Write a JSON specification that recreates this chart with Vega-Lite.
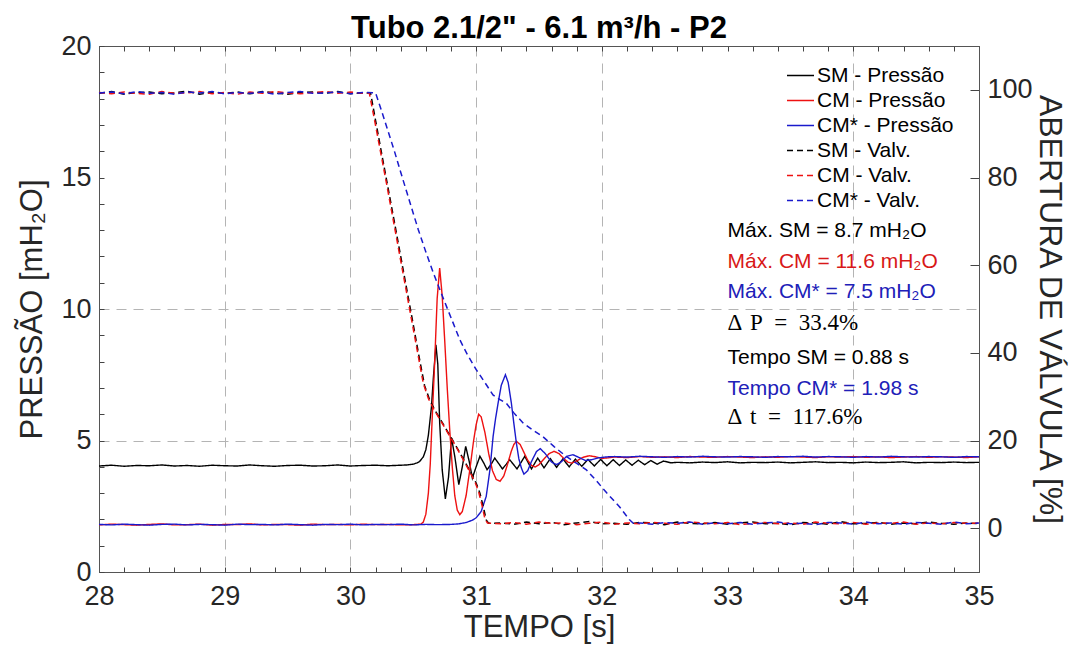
{
  "$schema": "https://vega.github.io/schema/vega-lite/v6.json",
  "width": 880,
  "height": 526,
  "autosize": {"type": "none"},
  "padding": {"left": 99, "top": 46, "right": 94, "bottom": 74},
  "background": "white",
  "config": {
    "view": {"stroke": "#555", "strokeWidth": 1},
    "font": "Liberation Sans",
    "legend": {
      "orient": "none", "legendX": 687, "legendY": 15, "padding": 0,
      "labelFont": "Liberation Sans", "labelFontSize": 21, "labelColor": "#000",
      "symbolType": "stroke", "symbolSize": 729, "symbolStrokeWidth": 1.5,
      "rowPadding": -4, "labelOffset": 2, "labelLimit": 300, "title": null
    }
  },
  "title": {
    "text": "Tubo 2.1/2\" - 6.1 m³/h - P2",
    "fontSize": 31, "fontWeight": "bold", "font": "Liberation Sans", "color": "#000",
    "anchor": "middle", "baseline": "alphabetic", "offset": -37
  },
  "datasets": {
    "pres": [
      {"s":"SM - Pressão","t":28.0,"y":4.03},{"s":"SM - Pressão","t":28.1,"y":4.06},{"s":"SM - Pressão","t":28.2,"y":4.02},{"s":"SM - Pressão","t":28.3,"y":4.05},{"s":"SM - Pressão","t":28.4,"y":4.04},{"s":"SM - Pressão","t":28.5,"y":4.07},{"s":"SM - Pressão","t":28.6,"y":4.03},{"s":"SM - Pressão","t":28.7,"y":4.05},{"s":"SM - Pressão","t":28.8,"y":4.02},{"s":"SM - Pressão","t":28.9,"y":4.06},{"s":"SM - Pressão","t":29.0,"y":4.04},{"s":"SM - Pressão","t":29.1,"y":4.03},{"s":"SM - Pressão","t":29.2,"y":4.07},{"s":"SM - Pressão","t":29.3,"y":4.04},{"s":"SM - Pressão","t":29.4,"y":4.02},{"s":"SM - Pressão","t":29.5,"y":4.05},{"s":"SM - Pressão","t":29.6,"y":4.06},{"s":"SM - Pressão","t":29.7,"y":4.03},{"s":"SM - Pressão","t":29.8,"y":4.04},{"s":"SM - Pressão","t":29.9,"y":4.07},{"s":"SM - Pressão","t":30.0,"y":4.03},{"s":"SM - Pressão","t":30.1,"y":4.05},{"s":"SM - Pressão","t":30.2,"y":4.06},{"s":"SM - Pressão","t":30.3,"y":4.04},{"s":"SM - Pressão","t":30.4,"y":4.06},
      {"s":"SM - Pressão","t":30.45,"y":4.07},{"s":"SM - Pressão","t":30.5,"y":4.1},{"s":"SM - Pressão","t":30.53,"y":4.15},{"s":"SM - Pressão","t":30.55,"y":4.2},{"s":"SM - Pressão","t":30.58,"y":4.38},{"s":"SM - Pressão","t":30.6,"y":4.65},{"s":"SM - Pressão","t":30.62,"y":5.2},{"s":"SM - Pressão","t":30.645,"y":6.3},{"s":"SM - Pressão","t":30.66,"y":7.4},{"s":"SM - Pressão","t":30.68,"y":8.64},{"s":"SM - Pressão","t":30.695,"y":7.9},{"s":"SM - Pressão","t":30.71,"y":5.67},{"s":"SM - Pressão","t":30.73,"y":3.89},{"s":"SM - Pressão","t":30.755,"y":2.78},{"s":"SM - Pressão","t":30.78,"y":3.6},{"s":"SM - Pressão","t":30.804,"y":5.09},{"s":"SM - Pressão","t":30.83,"y":4.4},{"s":"SM - Pressão","t":30.862,"y":3.32},{"s":"SM - Pressão","t":30.89,"y":4.0},{"s":"SM - Pressão","t":30.917,"y":4.78},{"s":"SM - Pressão","t":30.945,"y":4.2},{"s":"SM - Pressão","t":30.97,"y":3.57},{"s":"SM - Pressão","t":31.0,"y":4.0},{"s":"SM - Pressão","t":31.03,"y":4.4},{"s":"SM - Pressão","t":31.06,"y":4.15},{"s":"SM - Pressão","t":31.087,"y":3.89},{"s":"SM - Pressão","t":31.12,"y":4.1},{"s":"SM - Pressão","t":31.148,"y":4.33},{"s":"SM - Pressão","t":31.18,"y":4.12},{"s":"SM - Pressão","t":31.209,"y":3.92},{"s":"SM - Pressão","t":31.24,"y":4.1},{"s":"SM - Pressão","t":31.267,"y":4.27},{"s":"SM - Pressão","t":31.295,"y":4.1},{"s":"SM - Pressão","t":31.325,"y":3.92},{"s":"SM - Pressão","t":31.355,"y":4.15},{"s":"SM - Pressão","t":31.387,"y":4.4},{"s":"SM - Pressão","t":31.415,"y":4.15},{"s":"SM - Pressão","t":31.44,"y":3.92},{"s":"SM - Pressão","t":31.49,"y":4.33},{"s":"SM - Pressão","t":31.54,"y":3.96},{"s":"SM - Pressão","t":31.59,"y":4.31},{"s":"SM - Pressão","t":31.64,"y":3.98},{"s":"SM - Pressão","t":31.69,"y":4.3},{"s":"SM - Pressão","t":31.74,"y":4.0},{"s":"SM - Pressão","t":31.79,"y":4.29},{"s":"SM - Pressão","t":31.84,"y":4.02},{"s":"SM - Pressão","t":31.89,"y":4.28},{"s":"SM - Pressão","t":31.94,"y":4.03},{"s":"SM - Pressão","t":31.99,"y":4.28},{"s":"SM - Pressão","t":32.04,"y":4.04},{"s":"SM - Pressão","t":32.09,"y":4.27},{"s":"SM - Pressão","t":32.14,"y":4.05},{"s":"SM - Pressão","t":32.19,"y":4.26},{"s":"SM - Pressão","t":32.24,"y":4.06},{"s":"SM - Pressão","t":32.29,"y":4.25},{"s":"SM - Pressão","t":32.34,"y":4.08},{"s":"SM - Pressão","t":32.39,"y":4.24},{"s":"SM - Pressão","t":32.44,"y":4.1},{"s":"SM - Pressão","t":32.49,"y":4.22},{"s":"SM - Pressão","t":32.55,"y":4.15},
      {"s":"SM - Pressão","t":32.6,"y":4.17},{"s":"SM - Pressão","t":32.7,"y":4.15},{"s":"SM - Pressão","t":32.8,"y":4.18},{"s":"SM - Pressão","t":32.9,"y":4.16},{"s":"SM - Pressão","t":33.0,"y":4.19},{"s":"SM - Pressão","t":33.1,"y":4.15},{"s":"SM - Pressão","t":33.2,"y":4.17},{"s":"SM - Pressão","t":33.3,"y":4.16},{"s":"SM - Pressão","t":33.4,"y":4.18},{"s":"SM - Pressão","t":33.5,"y":4.15},{"s":"SM - Pressão","t":33.6,"y":4.17},{"s":"SM - Pressão","t":33.7,"y":4.19},{"s":"SM - Pressão","t":33.8,"y":4.16},{"s":"SM - Pressão","t":33.9,"y":4.17},{"s":"SM - Pressão","t":34.0,"y":4.15},{"s":"SM - Pressão","t":34.1,"y":4.18},{"s":"SM - Pressão","t":34.2,"y":4.16},{"s":"SM - Pressão","t":34.3,"y":4.17},{"s":"SM - Pressão","t":34.4,"y":4.19},{"s":"SM - Pressão","t":34.5,"y":4.15},{"s":"SM - Pressão","t":34.6,"y":4.17},{"s":"SM - Pressão","t":34.7,"y":4.16},{"s":"SM - Pressão","t":34.8,"y":4.18},{"s":"SM - Pressão","t":34.9,"y":4.16},{"s":"SM - Pressão","t":35.0,"y":4.17},

      {"s":"CM - Pressão","t":28.0,"y":1.79},{"s":"CM - Pressão","t":28.1,"y":1.82},{"s":"CM - Pressão","t":28.2,"y":1.8},{"s":"CM - Pressão","t":28.3,"y":1.78},{"s":"CM - Pressão","t":28.4,"y":1.81},{"s":"CM - Pressão","t":28.5,"y":1.83},{"s":"CM - Pressão","t":28.6,"y":1.79},{"s":"CM - Pressão","t":28.7,"y":1.8},{"s":"CM - Pressão","t":28.8,"y":1.82},{"s":"CM - Pressão","t":28.9,"y":1.78},{"s":"CM - Pressão","t":29.0,"y":1.81},{"s":"CM - Pressão","t":29.1,"y":1.8},{"s":"CM - Pressão","t":29.2,"y":1.83},{"s":"CM - Pressão","t":29.3,"y":1.79},{"s":"CM - Pressão","t":29.4,"y":1.81},{"s":"CM - Pressão","t":29.5,"y":1.8},{"s":"CM - Pressão","t":29.6,"y":1.78},{"s":"CM - Pressão","t":29.7,"y":1.82},{"s":"CM - Pressão","t":29.8,"y":1.8},{"s":"CM - Pressão","t":29.9,"y":1.81},{"s":"CM - Pressão","t":30.0,"y":1.79},{"s":"CM - Pressão","t":30.1,"y":1.82},{"s":"CM - Pressão","t":30.2,"y":1.8},{"s":"CM - Pressão","t":30.3,"y":1.81},{"s":"CM - Pressão","t":30.4,"y":1.79},{"s":"CM - Pressão","t":30.5,"y":1.8},
      {"s":"CM - Pressão","t":30.56,"y":1.82},{"s":"CM - Pressão","t":30.58,"y":1.9},{"s":"CM - Pressão","t":30.6,"y":2.2},{"s":"CM - Pressão","t":30.62,"y":3.0},{"s":"CM - Pressão","t":30.635,"y":4.1},{"s":"CM - Pressão","t":30.65,"y":5.8},{"s":"CM - Pressão","t":30.67,"y":7.95},{"s":"CM - Pressão","t":30.69,"y":10.4},{"s":"CM - Pressão","t":30.71,"y":11.56},{"s":"CM - Pressão","t":30.73,"y":10.5},{"s":"CM - Pressão","t":30.75,"y":8.8},{"s":"CM - Pressão","t":30.77,"y":7.0},{"s":"CM - Pressão","t":30.79,"y":5.4},{"s":"CM - Pressão","t":30.81,"y":4.0},{"s":"CM - Pressão","t":30.83,"y":2.9},{"s":"CM - Pressão","t":30.85,"y":2.35},{"s":"CM - Pressão","t":30.87,"y":2.18},{"s":"CM - Pressão","t":30.89,"y":2.3},{"s":"CM - Pressão","t":30.92,"y":2.9},{"s":"CM - Pressão","t":30.95,"y":3.9},{"s":"CM - Pressão","t":30.98,"y":5.0},{"s":"CM - Pressão","t":31.0,"y":5.6},{"s":"CM - Pressão","t":31.02,"y":6.0},{"s":"CM - Pressão","t":31.04,"y":5.9},{"s":"CM - Pressão","t":31.07,"y":5.3},{"s":"CM - Pressão","t":31.1,"y":4.5},{"s":"CM - Pressão","t":31.13,"y":3.85},{"s":"CM - Pressão","t":31.16,"y":3.52},{"s":"CM - Pressão","t":31.19,"y":3.45},{"s":"CM - Pressão","t":31.22,"y":3.65},{"s":"CM - Pressão","t":31.25,"y":4.1},{"s":"CM - Pressão","t":31.28,"y":4.6},{"s":"CM - Pressão","t":31.3,"y":4.85},{"s":"CM - Pressão","t":31.32,"y":4.97},{"s":"CM - Pressão","t":31.35,"y":4.85},{"s":"CM - Pressão","t":31.38,"y":4.55},{"s":"CM - Pressão","t":31.41,"y":4.25},{"s":"CM - Pressão","t":31.44,"y":4.05},{"s":"CM - Pressão","t":31.47,"y":3.99},{"s":"CM - Pressão","t":31.5,"y":4.08},{"s":"CM - Pressão","t":31.54,"y":4.3},{"s":"CM - Pressão","t":31.58,"y":4.5},{"s":"CM - Pressão","t":31.62,"y":4.59},{"s":"CM - Pressão","t":31.66,"y":4.5},{"s":"CM - Pressão","t":31.7,"y":4.3},{"s":"CM - Pressão","t":31.73,"y":4.18},{"s":"CM - Pressão","t":31.76,"y":4.14},{"s":"CM - Pressão","t":31.8,"y":4.22},{"s":"CM - Pressão","t":31.85,"y":4.36},{"s":"CM - Pressão","t":31.9,"y":4.42},{"s":"CM - Pressão","t":31.95,"y":4.38},{"s":"CM - Pressão","t":32.0,"y":4.32},{"s":"CM - Pressão","t":32.05,"y":4.34},
      {"s":"CM - Pressão","t":32.1,"y":4.37},{"s":"CM - Pressão","t":32.2,"y":4.35},{"s":"CM - Pressão","t":32.3,"y":4.39},{"s":"CM - Pressão","t":32.4,"y":4.36},{"s":"CM - Pressão","t":32.5,"y":4.38},{"s":"CM - Pressão","t":32.6,"y":4.35},{"s":"CM - Pressão","t":32.7,"y":4.39},{"s":"CM - Pressão","t":32.8,"y":4.37},{"s":"CM - Pressão","t":32.9,"y":4.36},{"s":"CM - Pressão","t":33.0,"y":4.39},{"s":"CM - Pressão","t":33.1,"y":4.37},{"s":"CM - Pressão","t":33.2,"y":4.35},{"s":"CM - Pressão","t":33.3,"y":4.38},{"s":"CM - Pressão","t":33.4,"y":4.36},{"s":"CM - Pressão","t":33.5,"y":4.39},{"s":"CM - Pressão","t":33.6,"y":4.37},{"s":"CM - Pressão","t":33.7,"y":4.35},{"s":"CM - Pressão","t":33.8,"y":4.38},{"s":"CM - Pressão","t":33.9,"y":4.37},{"s":"CM - Pressão","t":34.0,"y":4.39},{"s":"CM - Pressão","t":34.1,"y":4.36},{"s":"CM - Pressão","t":34.2,"y":4.38},{"s":"CM - Pressão","t":34.3,"y":4.35},{"s":"CM - Pressão","t":34.4,"y":4.37},{"s":"CM - Pressão","t":34.5,"y":4.39},{"s":"CM - Pressão","t":34.6,"y":4.36},{"s":"CM - Pressão","t":34.7,"y":4.38},{"s":"CM - Pressão","t":34.8,"y":4.37},{"s":"CM - Pressão","t":34.9,"y":4.35},{"s":"CM - Pressão","t":35.0,"y":4.38},

      {"s":"CM* - Pressão","t":28.0,"y":1.81},{"s":"CM* - Pressão","t":28.1,"y":1.79},{"s":"CM* - Pressão","t":28.2,"y":1.82},{"s":"CM* - Pressão","t":28.3,"y":1.8},{"s":"CM* - Pressão","t":28.4,"y":1.78},{"s":"CM* - Pressão","t":28.5,"y":1.81},{"s":"CM* - Pressão","t":28.6,"y":1.82},{"s":"CM* - Pressão","t":28.7,"y":1.79},{"s":"CM* - Pressão","t":28.8,"y":1.81},{"s":"CM* - Pressão","t":28.9,"y":1.8},{"s":"CM* - Pressão","t":29.0,"y":1.78},{"s":"CM* - Pressão","t":29.1,"y":1.82},{"s":"CM* - Pressão","t":29.2,"y":1.8},{"s":"CM* - Pressão","t":29.3,"y":1.81},{"s":"CM* - Pressão","t":29.4,"y":1.79},{"s":"CM* - Pressão","t":29.5,"y":1.82},{"s":"CM* - Pressão","t":29.6,"y":1.8},{"s":"CM* - Pressão","t":29.7,"y":1.78},{"s":"CM* - Pressão","t":29.8,"y":1.81},{"s":"CM* - Pressão","t":29.9,"y":1.8},{"s":"CM* - Pressão","t":30.0,"y":1.82},{"s":"CM* - Pressão","t":30.1,"y":1.79},{"s":"CM* - Pressão","t":30.2,"y":1.81},{"s":"CM* - Pressão","t":30.3,"y":1.8},{"s":"CM* - Pressão","t":30.4,"y":1.82},{"s":"CM* - Pressão","t":30.5,"y":1.79},{"s":"CM* - Pressão","t":30.6,"y":1.81},{"s":"CM* - Pressão","t":30.7,"y":1.8},{"s":"CM* - Pressão","t":30.8,"y":1.81},
      {"s":"CM* - Pressão","t":30.86,"y":1.83},{"s":"CM* - Pressão","t":30.92,"y":1.88},{"s":"CM* - Pressão","t":30.97,"y":1.97},{"s":"CM* - Pressão","t":31.0,"y":2.06},{"s":"CM* - Pressão","t":31.04,"y":2.3},{"s":"CM* - Pressão","t":31.08,"y":2.87},{"s":"CM* - Pressão","t":31.11,"y":3.9},{"s":"CM* - Pressão","t":31.135,"y":5.16},{"s":"CM* - Pressão","t":31.155,"y":5.85},{"s":"CM* - Pressão","t":31.175,"y":6.43},{"s":"CM* - Pressão","t":31.2,"y":7.1},{"s":"CM* - Pressão","t":31.233,"y":7.5},{"s":"CM* - Pressão","t":31.255,"y":7.2},{"s":"CM* - Pressão","t":31.28,"y":6.43},{"s":"CM* - Pressão","t":31.3,"y":5.65},{"s":"CM* - Pressão","t":31.32,"y":4.9},{"s":"CM* - Pressão","t":31.34,"y":4.3},{"s":"CM* - Pressão","t":31.36,"y":3.95},{"s":"CM* - Pressão","t":31.38,"y":3.72},{"s":"CM* - Pressão","t":31.41,"y":3.85},{"s":"CM* - Pressão","t":31.44,"y":4.2},{"s":"CM* - Pressão","t":31.48,"y":4.58},{"s":"CM* - Pressão","t":31.51,"y":4.69},{"s":"CM* - Pressão","t":31.55,"y":4.5},{"s":"CM* - Pressão","t":31.6,"y":4.18},{"s":"CM* - Pressão","t":31.64,"y":4.08},{"s":"CM* - Pressão","t":31.68,"y":4.2},{"s":"CM* - Pressão","t":31.72,"y":4.4},{"s":"CM* - Pressão","t":31.77,"y":4.46},{"s":"CM* - Pressão","t":31.82,"y":4.35},{"s":"CM* - Pressão","t":31.87,"y":4.24},{"s":"CM* - Pressão","t":31.92,"y":4.27},{"s":"CM* - Pressão","t":31.97,"y":4.34},{"s":"CM* - Pressão","t":32.05,"y":4.38},
      {"s":"CM* - Pressão","t":32.1,"y":4.39},{"s":"CM* - Pressão","t":32.2,"y":4.37},{"s":"CM* - Pressão","t":32.3,"y":4.4},{"s":"CM* - Pressão","t":32.4,"y":4.38},{"s":"CM* - Pressão","t":32.5,"y":4.36},{"s":"CM* - Pressão","t":32.6,"y":4.39},{"s":"CM* - Pressão","t":32.7,"y":4.37},{"s":"CM* - Pressão","t":32.8,"y":4.4},{"s":"CM* - Pressão","t":32.9,"y":4.38},{"s":"CM* - Pressão","t":33.0,"y":4.37},{"s":"CM* - Pressão","t":33.1,"y":4.39},{"s":"CM* - Pressão","t":33.2,"y":4.38},{"s":"CM* - Pressão","t":33.3,"y":4.36},{"s":"CM* - Pressão","t":33.4,"y":4.39},{"s":"CM* - Pressão","t":33.5,"y":4.38},{"s":"CM* - Pressão","t":33.6,"y":4.4},{"s":"CM* - Pressão","t":33.7,"y":4.37},{"s":"CM* - Pressão","t":33.8,"y":4.39},{"s":"CM* - Pressão","t":33.9,"y":4.38},{"s":"CM* - Pressão","t":34.0,"y":4.36},{"s":"CM* - Pressão","t":34.1,"y":4.39},{"s":"CM* - Pressão","t":34.2,"y":4.37},{"s":"CM* - Pressão","t":34.3,"y":4.4},{"s":"CM* - Pressão","t":34.4,"y":4.38},{"s":"CM* - Pressão","t":34.5,"y":4.37},{"s":"CM* - Pressão","t":34.6,"y":4.39},{"s":"CM* - Pressão","t":34.7,"y":4.38},{"s":"CM* - Pressão","t":34.8,"y":4.36},{"s":"CM* - Pressão","t":34.9,"y":4.39},{"s":"CM* - Pressão","t":35.0,"y":4.38}
    ],
    "valv": [
      {"s":"SM - Valv.","t":28.0,"y":99.2},{"s":"SM - Valv.","t":28.1,"y":99.6},{"s":"SM - Valv.","t":28.2,"y":99.0},{"s":"SM - Valv.","t":28.3,"y":99.4},{"s":"SM - Valv.","t":28.4,"y":99.5},{"s":"SM - Valv.","t":28.5,"y":99.1},{"s":"SM - Valv.","t":28.6,"y":99.3},{"s":"SM - Valv.","t":28.7,"y":99.7},{"s":"SM - Valv.","t":28.8,"y":99.0},{"s":"SM - Valv.","t":28.9,"y":99.4},{"s":"SM - Valv.","t":29.0,"y":99.2},{"s":"SM - Valv.","t":29.1,"y":99.5},{"s":"SM - Valv.","t":29.2,"y":99.1},{"s":"SM - Valv.","t":29.3,"y":99.6},{"s":"SM - Valv.","t":29.4,"y":99.3},{"s":"SM - Valv.","t":29.5,"y":99.0},{"s":"SM - Valv.","t":29.6,"y":99.4},{"s":"SM - Valv.","t":29.7,"y":99.5},{"s":"SM - Valv.","t":29.8,"y":99.2},{"s":"SM - Valv.","t":29.9,"y":99.6},{"s":"SM - Valv.","t":30.0,"y":99.1},{"s":"SM - Valv.","t":30.1,"y":99.3},
      {"s":"SM - Valv.","t":30.16,"y":99.3},{"s":"SM - Valv.","t":30.2,"y":93},{"s":"SM - Valv.","t":30.25,"y":85.2},{"s":"SM - Valv.","t":30.3,"y":77.5},{"s":"SM - Valv.","t":30.35,"y":69.8},{"s":"SM - Valv.","t":30.4,"y":62},{"s":"SM - Valv.","t":30.45,"y":54.2},{"s":"SM - Valv.","t":30.5,"y":46.4},{"s":"SM - Valv.","t":30.55,"y":38.5},{"s":"SM - Valv.","t":30.59,"y":32.5},{"s":"SM - Valv.","t":30.63,"y":29.3},{"s":"SM - Valv.","t":30.67,"y":27},{"s":"SM - Valv.","t":30.72,"y":24.6},{"s":"SM - Valv.","t":30.8,"y":20.7},{"s":"SM - Valv.","t":30.856,"y":17.9},{"s":"SM - Valv.","t":30.91,"y":15.2},{"s":"SM - Valv.","t":30.96,"y":12.5},{"s":"SM - Valv.","t":31.0,"y":10.3},{"s":"SM - Valv.","t":31.03,"y":8.0},{"s":"SM - Valv.","t":31.06,"y":4.5},{"s":"SM - Valv.","t":31.08,"y":1.9},{"s":"SM - Valv.","t":31.1,"y":1.1},
      {"s":"SM - Valv.","t":31.2,"y":1.2},{"s":"SM - Valv.","t":31.3,"y":0.9},{"s":"SM - Valv.","t":31.4,"y":1.4},{"s":"SM - Valv.","t":31.5,"y":1.0},{"s":"SM - Valv.","t":31.6,"y":1.3},{"s":"SM - Valv.","t":31.7,"y":0.8},{"s":"SM - Valv.","t":31.8,"y":1.2},{"s":"SM - Valv.","t":31.9,"y":1.5},{"s":"SM - Valv.","t":32.0,"y":1.0},{"s":"SM - Valv.","t":32.1,"y":1.1},{"s":"SM - Valv.","t":32.2,"y":0.9},{"s":"SM - Valv.","t":32.3,"y":1.3},{"s":"SM - Valv.","t":32.4,"y":1.2},{"s":"SM - Valv.","t":32.5,"y":0.8},{"s":"SM - Valv.","t":32.6,"y":1.4},{"s":"SM - Valv.","t":32.7,"y":1.1},{"s":"SM - Valv.","t":32.8,"y":1.0},{"s":"SM - Valv.","t":32.9,"y":1.3},{"s":"SM - Valv.","t":33.0,"y":0.9},{"s":"SM - Valv.","t":33.1,"y":1.2},{"s":"SM - Valv.","t":33.2,"y":1.4},{"s":"SM - Valv.","t":33.3,"y":1.0},{"s":"SM - Valv.","t":33.4,"y":1.1},{"s":"SM - Valv.","t":33.5,"y":0.8},{"s":"SM - Valv.","t":33.6,"y":1.3},{"s":"SM - Valv.","t":33.7,"y":1.2},{"s":"SM - Valv.","t":33.8,"y":0.9},{"s":"SM - Valv.","t":33.9,"y":1.5},{"s":"SM - Valv.","t":34.0,"y":1.0},{"s":"SM - Valv.","t":34.1,"y":1.1},{"s":"SM - Valv.","t":34.2,"y":1.3},{"s":"SM - Valv.","t":34.3,"y":0.9},{"s":"SM - Valv.","t":34.4,"y":1.2},{"s":"SM - Valv.","t":34.5,"y":1.0},{"s":"SM - Valv.","t":34.6,"y":1.4},{"s":"SM - Valv.","t":34.7,"y":1.1},{"s":"SM - Valv.","t":34.8,"y":0.9},{"s":"SM - Valv.","t":34.9,"y":1.2},{"s":"SM - Valv.","t":35.0,"y":1.0},

      {"s":"CM - Valv.","t":28.0,"y":99.4},{"s":"CM - Valv.","t":28.1,"y":99.1},{"s":"CM - Valv.","t":28.2,"y":99.5},{"s":"CM - Valv.","t":28.3,"y":99.2},{"s":"CM - Valv.","t":28.4,"y":99.0},{"s":"CM - Valv.","t":28.5,"y":99.6},{"s":"CM - Valv.","t":28.6,"y":99.2},{"s":"CM - Valv.","t":28.7,"y":99.3},{"s":"CM - Valv.","t":28.8,"y":99.6},{"s":"CM - Valv.","t":28.9,"y":99.1},{"s":"CM - Valv.","t":29.0,"y":99.4},{"s":"CM - Valv.","t":29.1,"y":99.0},{"s":"CM - Valv.","t":29.2,"y":99.5},{"s":"CM - Valv.","t":29.3,"y":99.2},{"s":"CM - Valv.","t":29.4,"y":99.6},{"s":"CM - Valv.","t":29.5,"y":99.3},{"s":"CM - Valv.","t":29.6,"y":99.1},{"s":"CM - Valv.","t":29.7,"y":99.4},{"s":"CM - Valv.","t":29.8,"y":99.6},{"s":"CM - Valv.","t":29.9,"y":99.2},{"s":"CM - Valv.","t":30.0,"y":99.5},{"s":"CM - Valv.","t":30.1,"y":99.2},
      {"s":"CM - Valv.","t":30.15,"y":99.3},{"s":"CM - Valv.","t":30.19,"y":93.4},{"s":"CM - Valv.","t":30.24,"y":85.8},{"s":"CM - Valv.","t":30.29,"y":78.2},{"s":"CM - Valv.","t":30.34,"y":70.4},{"s":"CM - Valv.","t":30.39,"y":62.6},{"s":"CM - Valv.","t":30.44,"y":54.8},{"s":"CM - Valv.","t":30.49,"y":47},{"s":"CM - Valv.","t":30.54,"y":39.2},{"s":"CM - Valv.","t":30.58,"y":33},{"s":"CM - Valv.","t":30.62,"y":29.6},{"s":"CM - Valv.","t":30.66,"y":27.3},{"s":"CM - Valv.","t":30.71,"y":24.9},{"s":"CM - Valv.","t":30.79,"y":21},{"s":"CM - Valv.","t":30.85,"y":18.1},{"s":"CM - Valv.","t":30.9,"y":15.5},{"s":"CM - Valv.","t":30.95,"y":12.8},{"s":"CM - Valv.","t":30.99,"y":10.6},{"s":"CM - Valv.","t":31.02,"y":8.3},{"s":"CM - Valv.","t":31.05,"y":4.8},{"s":"CM - Valv.","t":31.07,"y":2.1},{"s":"CM - Valv.","t":31.09,"y":1.2},
      {"s":"CM - Valv.","t":31.2,"y":1.0},{"s":"CM - Valv.","t":31.3,"y":1.3},{"s":"CM - Valv.","t":31.4,"y":0.9},{"s":"CM - Valv.","t":31.5,"y":1.4},{"s":"CM - Valv.","t":31.6,"y":1.1},{"s":"CM - Valv.","t":31.7,"y":1.2},{"s":"CM - Valv.","t":31.8,"y":0.8},{"s":"CM - Valv.","t":31.9,"y":1.1},{"s":"CM - Valv.","t":32.0,"y":1.4},{"s":"CM - Valv.","t":32.1,"y":0.9},{"s":"CM - Valv.","t":32.2,"y":1.2},{"s":"CM - Valv.","t":32.3,"y":1.0},{"s":"CM - Valv.","t":32.4,"y":1.3},{"s":"CM - Valv.","t":32.5,"y":1.1},{"s":"CM - Valv.","t":32.6,"y":0.9},{"s":"CM - Valv.","t":32.7,"y":1.4},{"s":"CM - Valv.","t":32.8,"y":1.2},{"s":"CM - Valv.","t":32.9,"y":1.0},{"s":"CM - Valv.","t":33.0,"y":1.3},{"s":"CM - Valv.","t":33.1,"y":0.8},{"s":"CM - Valv.","t":33.2,"y":1.1},{"s":"CM - Valv.","t":33.3,"y":1.3},{"s":"CM - Valv.","t":33.4,"y":1.0},{"s":"CM - Valv.","t":33.5,"y":1.2},{"s":"CM - Valv.","t":33.6,"y":0.9},{"s":"CM - Valv.","t":33.7,"y":1.4},{"s":"CM - Valv.","t":33.8,"y":1.1},{"s":"CM - Valv.","t":33.9,"y":1.0},{"s":"CM - Valv.","t":34.0,"y":1.3},{"s":"CM - Valv.","t":34.1,"y":0.9},{"s":"CM - Valv.","t":34.2,"y":1.2},{"s":"CM - Valv.","t":34.3,"y":1.1},{"s":"CM - Valv.","t":34.4,"y":1.4},{"s":"CM - Valv.","t":34.5,"y":0.9},{"s":"CM - Valv.","t":34.6,"y":1.2},{"s":"CM - Valv.","t":34.7,"y":1.0},{"s":"CM - Valv.","t":34.8,"y":1.3},{"s":"CM - Valv.","t":34.9,"y":1.1},{"s":"CM - Valv.","t":35.0,"y":1.2},

      {"s":"CM* - Valv.","t":28.0,"y":99.3},{"s":"CM* - Valv.","t":28.1,"y":99.5},{"s":"CM* - Valv.","t":28.2,"y":99.1},{"s":"CM* - Valv.","t":28.3,"y":99.6},{"s":"CM* - Valv.","t":28.4,"y":99.2},{"s":"CM* - Valv.","t":28.5,"y":99.4},{"s":"CM* - Valv.","t":28.6,"y":99.0},{"s":"CM* - Valv.","t":28.7,"y":99.5},{"s":"CM* - Valv.","t":28.8,"y":99.3},{"s":"CM* - Valv.","t":28.9,"y":99.6},{"s":"CM* - Valv.","t":29.0,"y":99.1},{"s":"CM* - Valv.","t":29.1,"y":99.4},{"s":"CM* - Valv.","t":29.2,"y":99.2},{"s":"CM* - Valv.","t":29.3,"y":99.5},{"s":"CM* - Valv.","t":29.4,"y":99.0},{"s":"CM* - Valv.","t":29.5,"y":99.4},{"s":"CM* - Valv.","t":29.6,"y":99.6},{"s":"CM* - Valv.","t":29.7,"y":99.2},{"s":"CM* - Valv.","t":29.8,"y":99.3},{"s":"CM* - Valv.","t":29.9,"y":99.5},{"s":"CM* - Valv.","t":30.0,"y":99.1},{"s":"CM* - Valv.","t":30.1,"y":99.4},{"s":"CM* - Valv.","t":30.2,"y":99.3},
      {"s":"CM* - Valv.","t":30.25,"y":95},{"s":"CM* - Valv.","t":30.3,"y":90.5},{"s":"CM* - Valv.","t":30.35,"y":86},{"s":"CM* - Valv.","t":30.4,"y":81.2},{"s":"CM* - Valv.","t":30.45,"y":76.5},{"s":"CM* - Valv.","t":30.5,"y":71.8},{"s":"CM* - Valv.","t":30.54,"y":68.1},{"s":"CM* - Valv.","t":30.6,"y":63},{"s":"CM* - Valv.","t":30.66,"y":58.2},{"s":"CM* - Valv.","t":30.71,"y":54.5},{"s":"CM* - Valv.","t":30.764,"y":50.6},{"s":"CM* - Valv.","t":30.82,"y":46.6},{"s":"CM* - Valv.","t":30.87,"y":43},{"s":"CM* - Valv.","t":30.93,"y":39.6},{"s":"CM* - Valv.","t":31.0,"y":36.2},{"s":"CM* - Valv.","t":31.07,"y":33.2},{"s":"CM* - Valv.","t":31.134,"y":30.4},{"s":"CM* - Valv.","t":31.19,"y":29.3},{"s":"CM* - Valv.","t":31.24,"y":28.5},{"s":"CM* - Valv.","t":31.3,"y":26.3},{"s":"CM* - Valv.","t":31.373,"y":24},{"s":"CM* - Valv.","t":31.45,"y":22.4},{"s":"CM* - Valv.","t":31.53,"y":20.9},{"s":"CM* - Valv.","t":31.62,"y":18.6},{"s":"CM* - Valv.","t":31.72,"y":16.3},{"s":"CM* - Valv.","t":31.8,"y":14.8},{"s":"CM* - Valv.","t":31.877,"y":13.3},{"s":"CM* - Valv.","t":31.96,"y":10.7},{"s":"CM* - Valv.","t":32.04,"y":8},{"s":"CM* - Valv.","t":32.14,"y":4.9},{"s":"CM* - Valv.","t":32.22,"y":1.9},{"s":"CM* - Valv.","t":32.25,"y":1.1},
      {"s":"CM* - Valv.","t":32.3,"y":1.2},{"s":"CM* - Valv.","t":32.4,"y":0.9},{"s":"CM* - Valv.","t":32.5,"y":1.3},{"s":"CM* - Valv.","t":32.6,"y":1.1},{"s":"CM* - Valv.","t":32.7,"y":1.4},{"s":"CM* - Valv.","t":32.8,"y":0.9},{"s":"CM* - Valv.","t":32.9,"y":1.2},{"s":"CM* - Valv.","t":33.0,"y":1.0},{"s":"CM* - Valv.","t":33.1,"y":1.3},{"s":"CM* - Valv.","t":33.2,"y":0.9},{"s":"CM* - Valv.","t":33.3,"y":1.2},{"s":"CM* - Valv.","t":33.4,"y":1.4},{"s":"CM* - Valv.","t":33.5,"y":1.0},{"s":"CM* - Valv.","t":33.6,"y":1.1},{"s":"CM* - Valv.","t":33.7,"y":0.8},{"s":"CM* - Valv.","t":33.8,"y":1.3},{"s":"CM* - Valv.","t":33.9,"y":1.2},{"s":"CM* - Valv.","t":34.0,"y":0.9},{"s":"CM* - Valv.","t":34.1,"y":1.4},{"s":"CM* - Valv.","t":34.2,"y":1.0},{"s":"CM* - Valv.","t":34.3,"y":1.2},{"s":"CM* - Valv.","t":34.4,"y":0.9},{"s":"CM* - Valv.","t":34.5,"y":1.3},{"s":"CM* - Valv.","t":34.6,"y":1.1},{"s":"CM* - Valv.","t":34.7,"y":0.9},{"s":"CM* - Valv.","t":34.8,"y":1.4},{"s":"CM* - Valv.","t":34.9,"y":1.0},{"s":"CM* - Valv.","t":35.0,"y":1.2}
    ],
    "ann": [
      {"k":"k","label":"Máx. SM = 8.7 mH₂O","t":33.0,"y":12.95},
      {"k":"r","label":"Máx. CM = 11.6 mH₂O","t":33.0,"y":11.79},
      {"k":"b","label":"Máx. CM* = 7.5 mH₂O","t":33.0,"y":10.63},
      {"k":"d","label":"Δ\u2004P\u2002=\u200233.4%","t":33.0,"y":9.48},
      {"k":"k","label":"Tempo SM = 0.88 s","t":33.0,"y":8.14},
      {"k":"b","label":"Tempo CM* = 1.98 s","t":33.0,"y":6.97},
      {"k":"d","label":"Δ\u2004t\u2002=\u2002117.6%","t":33.0,"y":5.89}
    ]
  },
  "layer": [
    {
      "data": {"name": "pres"},
      "mark": {"type": "line", "strokeWidth": 1.4},
      "encoding": {
        "x": {
          "field": "t", "type": "quantitative",
          "scale": {"domain": [28, 35], "nice": false, "zero": false},
          "axis": {
            "orient": "bottom",
            "values": [28,28.2,28.4,28.6,28.8,29,29.2,29.4,29.6,29.8,30,30.2,30.4,30.6,30.8,31,31.2,31.4,31.6,31.8,32,32.2,32.4,32.6,32.8,33,33.2,33.4,33.6,33.8,34,34.2,34.4,34.6,34.8,35],
            "labelExpr": "abs(datum.value - round(datum.value)) < 0.001 ? format(datum.value, 'd') : ''",
            "labelOverlap": false, "labelFlush": false,
            "labelFont": "Liberation Sans", "labelFontSize": 27, "labelColor": "#262626", "labelPadding": 16,
            "tickSize": -5, "tickColor": "#444", "tickWidth": 1,
            "domainColor": "#555",
            "grid": true, "gridDash": [10, 7], "gridColor": "#b4b4b4", "gridWidth": 1,
            "gridOpacity": {"condition": {"test": "abs(datum.value - round(datum.value)) < 0.001 && datum.value > 28.5 && datum.value < 34.5 && abs(datum.value - 33) > 0.001", "value": 1}, "value": 0},
            "title": "TEMPO [s]", "titleFont": "Liberation Sans", "titleFontSize": 31, "titleFontWeight": "normal", "titleColor": "#262626", "titlePadding": 3
          }
        },
        "y": {
          "field": "y", "type": "quantitative",
          "scale": {"domain": [0, 20], "nice": false, "zero": false},
          "axis": {
            "orient": "left",
            "values": [0,1,2,3,4,5,6,7,8,9,10,11,12,13,14,15,16,17,18,19,20],
            "labelExpr": "datum.value % 5 == 0 ? format(datum.value, 'd') : ''",
            "labelOverlap": false, "labelFlush": false,
            "labelFont": "Liberation Sans", "labelFontSize": 27, "labelColor": "#262626", "labelPadding": 13,
            "tickSize": -5, "tickColor": "#444", "tickWidth": 1,
            "domainColor": "#555",
            "grid": true, "gridDash": [10, 7], "gridColor": "#b4b4b4", "gridWidth": 1,
            "gridOpacity": {"condition": {"test": "datum.value == 5 || datum.value == 10", "value": 1}, "value": 0},
            "title": "PRESSÃO [mH₂O]", "titleFont": "Liberation Sans", "titleFontSize": 31, "titleFontWeight": "normal", "titleColor": "#262626", "titlePadding": 12
          }
        },
        "color": {
          "field": "s", "type": "nominal",
          "scale": {"domain": ["SM - Pressão","CM - Pressão","CM* - Pressão","SM - Valv.","CM - Valv.","CM* - Valv."], "range": ["#000000","#ee1111","#1a1acc","#000000","#ee1111","#1a1acc"]},
          "legend": {"title": null}
        },
        "strokeDash": {
          "field": "s", "type": "nominal",
          "scale": {"domain": ["SM - Pressão","CM - Pressão","CM* - Pressão","SM - Valv.","CM - Valv.","CM* - Valv."], "range": [[1,0],[1,0],[1,0],[6,4],[6,4],[6,4]]},
          "legend": {"title": null}
        }
      }
    },
    {
      "data": {"name": "valv"},
      "mark": {"type": "line", "strokeWidth": 1.5},
      "encoding": {
        "x": {"field": "t", "type": "quantitative", "axis": null},
        "y": {
          "field": "y", "type": "quantitative",
          "scale": {"domain": [-10, 110], "nice": false, "zero": false},
          "axis": {
            "orient": "right",
            "values": [0, 20, 40, 60, 80, 100],
            "labelFont": "Liberation Sans", "labelFontSize": 27, "labelColor": "#262626", "labelPadding": 17,
            "labelFlush": false, "labelOverlap": false,
            "tickSize": -9, "tickColor": "#444", "tickWidth": 1,
            "domainColor": "#555", "grid": false,
            "title": "ABERTURA DE VÁLVULA [%]", "titleFont": "Liberation Sans", "titleFontSize": 32, "titleFontWeight": "normal", "titleColor": "#262626", "titlePadding": 0
          }
        },
        "color": {
          "field": "s", "type": "nominal",
          "scale": {"domain": ["SM - Pressão","CM - Pressão","CM* - Pressão","SM - Valv.","CM - Valv.","CM* - Valv."], "range": ["#000000","#ee1111","#1a1acc","#000000","#ee1111","#1a1acc"]},
          "legend": {"title": null}
        },
        "strokeDash": {
          "field": "s", "type": "nominal",
          "scale": {"domain": ["SM - Pressão","CM - Pressão","CM* - Pressão","SM - Valv.","CM - Valv.","CM* - Valv."], "range": [[1,0],[1,0],[1,0],[6,4],[6,4],[6,4]]},
          "legend": {"title": null}
        }
      }
    },
    {
      "data": {"name": "ann"},
      "transform": [{"filter": "datum.k == 'k'"}],
      "mark": {"type": "text", "align": "left", "baseline": "middle", "font": "Liberation Sans", "fontSize": 21, "color": "#000"},
      "encoding": {
        "x": {
          "field": "t", "type": "quantitative",
          "axis": {
            "orient": "top",
            "values": [28,28.2,28.4,28.6,28.8,29,29.2,29.4,29.6,29.8,30,30.2,30.4,30.6,30.8,31,31.2,31.4,31.6,31.8,32,32.2,32.4,32.6,32.8,33,33.2,33.4,33.6,33.8,34,34.2,34.4,34.6,34.8,35],
            "labels": false, "title": null, "grid": false,
            "tickSize": -5, "tickColor": "#444", "tickWidth": 1, "domainColor": "#555"
          }
        },
        "y": {"field": "y", "type": "quantitative", "scale": {"domain": [0, 20], "nice": false, "zero": false}, "axis": null},
        "text": {"field": "label"}
      }
    },
    {
      "data": {"name": "ann"},
      "transform": [{"filter": "datum.k == 'r'"}],
      "mark": {"type": "text", "align": "left", "baseline": "middle", "font": "Liberation Sans", "fontSize": 21, "color": "#d81818"},
      "encoding": {
        "x": {"field": "t", "type": "quantitative", "axis": null},
        "y": {"field": "y", "type": "quantitative", "scale": {"domain": [0, 20], "nice": false, "zero": false}, "axis": null},
        "text": {"field": "label"}
      }
    },
    {
      "data": {"name": "ann"},
      "transform": [{"filter": "datum.k == 'b'"}],
      "mark": {"type": "text", "align": "left", "baseline": "middle", "font": "Liberation Sans", "fontSize": 21, "color": "#2020b8"},
      "encoding": {
        "x": {"field": "t", "type": "quantitative", "axis": null},
        "y": {"field": "y", "type": "quantitative", "scale": {"domain": [0, 20], "nice": false, "zero": false}, "axis": null},
        "text": {"field": "label"}
      }
    },
    {
      "data": {"name": "ann"},
      "transform": [{"filter": "datum.k == 'd'"}],
      "mark": {"type": "text", "align": "left", "baseline": "middle", "font": "Liberation Serif", "fontSize": 23, "color": "#000"},
      "encoding": {
        "x": {"field": "t", "type": "quantitative", "axis": null},
        "y": {"field": "y", "type": "quantitative", "scale": {"domain": [0, 20], "nice": false, "zero": false}, "axis": null},
        "text": {"field": "label"}
      }
    }
  ],
  "resolve": {"scale": {"y": "independent"}, "axis": {"x": "independent", "y": "independent"}}
}
